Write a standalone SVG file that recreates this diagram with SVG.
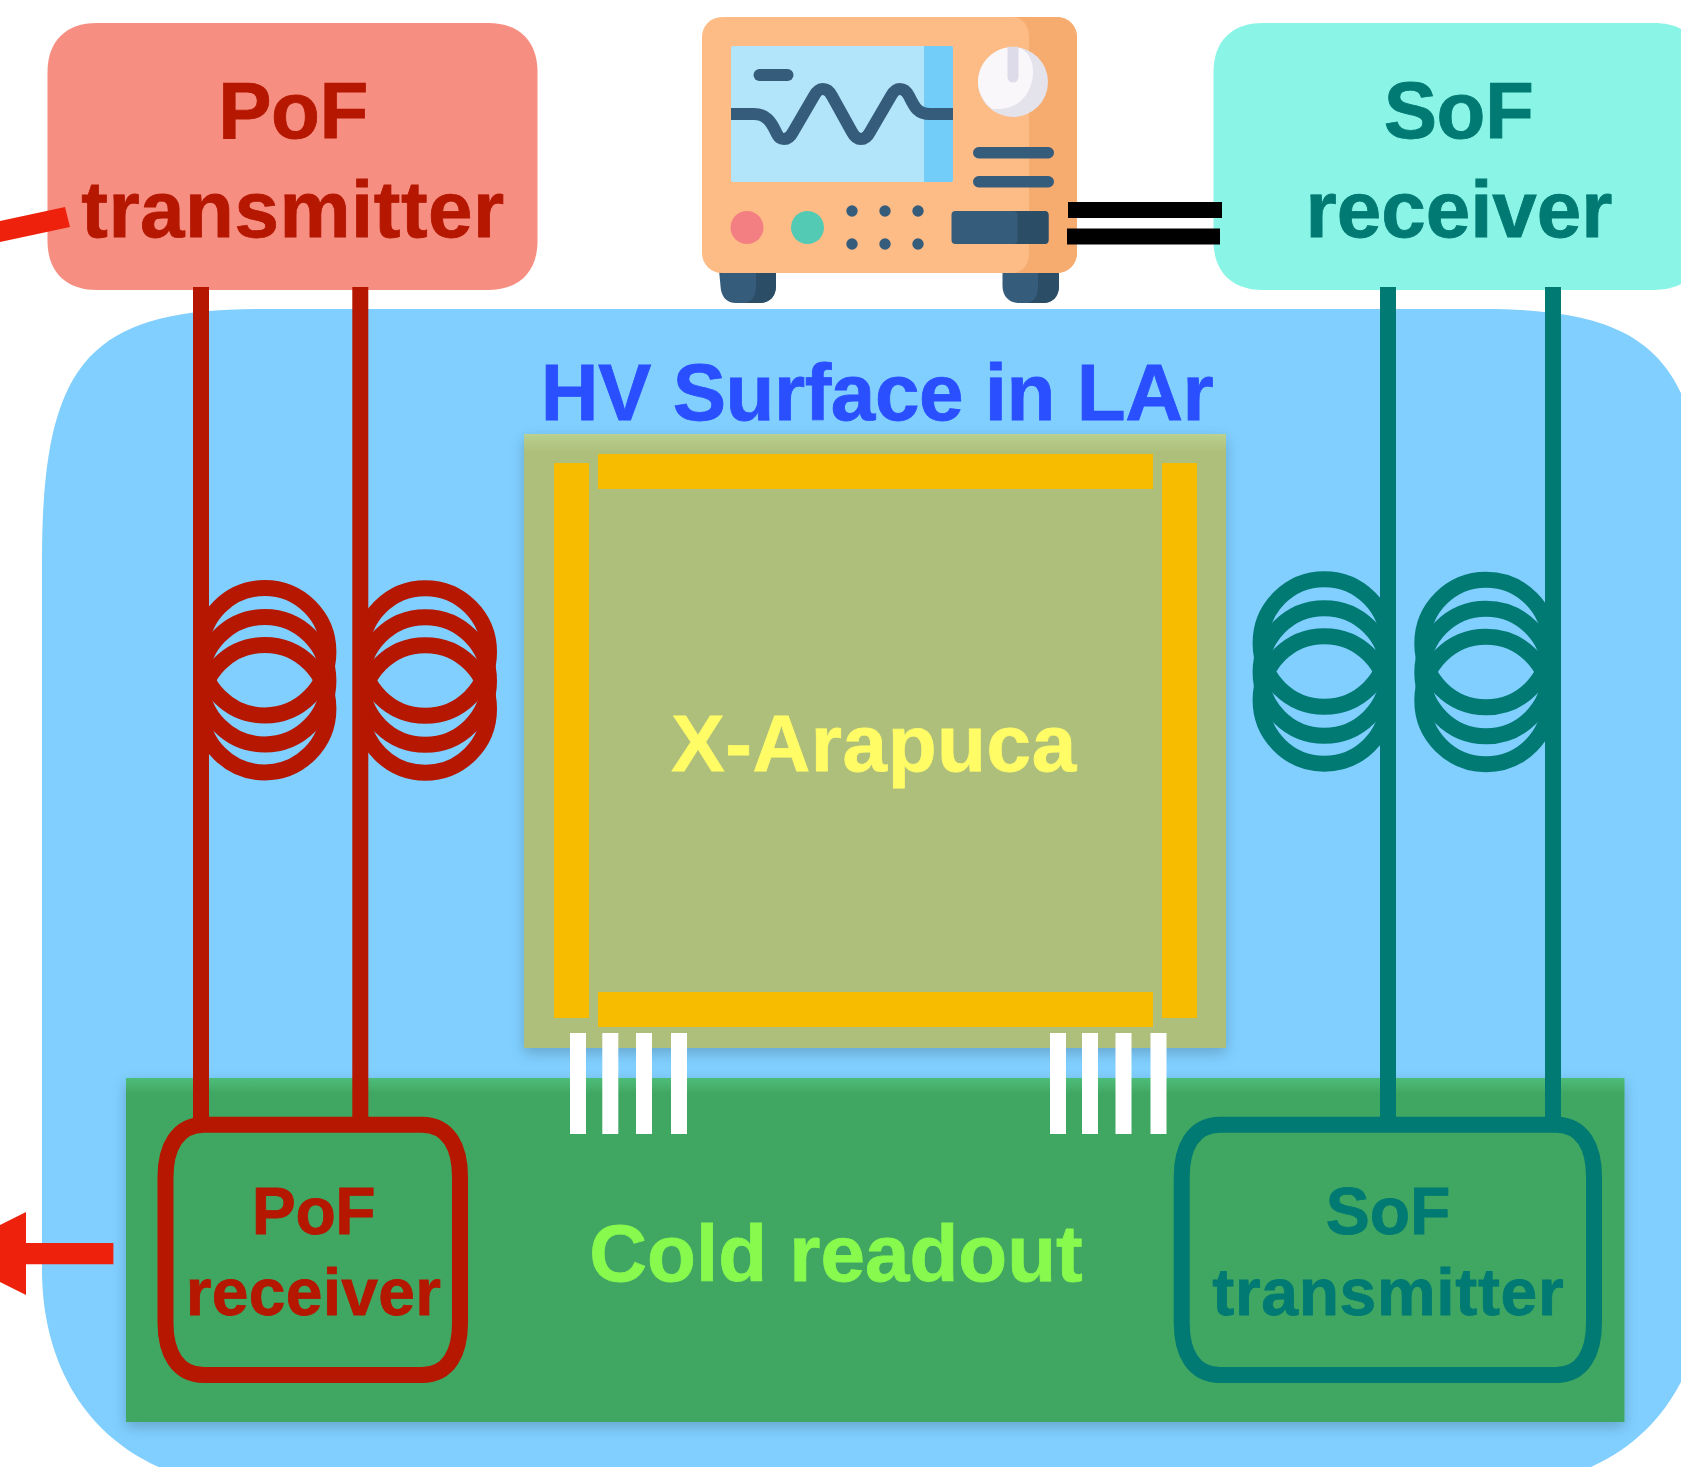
<svg xmlns="http://www.w3.org/2000/svg" width="1681" height="1467" viewBox="0 0 1681 1467">
<style>
text{font-family:"Liberation Sans",Arial,sans-serif;font-weight:700;text-anchor:middle;stroke-width:.8}
.t80{font-size:80px}.t66{font-size:66px}
.red{fill:#b51700;stroke:#b51700}.teal{fill:#007a73;stroke:#007a73}
.blue{fill:#2a4fff;stroke:#2a4fff}.lime{fill:#88fa4e;stroke:#88fa4e}.yel{fill:#fffc66;stroke:#fffc66}
.rl{stroke:#b51700;stroke-width:16;fill:none}
.tl{stroke:#007a73;stroke-width:16;fill:none}
.w{fill:#fff}.y{fill:#f7bb00}
.navy{fill:#365c7c}.dnavy{fill:#2c4d66}
</style>
<defs>
<filter id="sh" x="-5%" y="-5%" width="110%" height="110%"><feDropShadow dx="0" dy="5" stdDeviation="7" flood-color="#000" flood-opacity=".2"/></filter>
<linearGradient id="gg" x1="0" y1="0" x2="0" y2="1"><stop offset="0" stop-color="#4dbd7a"/><stop offset=".045" stop-color="#41a762"/></linearGradient>
<linearGradient id="og" x1="0" y1="0" x2="0" y2="1"><stop offset="0" stop-color="#b9d08f"/><stop offset=".03" stop-color="#aebf7b"/></linearGradient>
<g id="coil"><circle cx="0" cy="0" r="63.7"/><circle cx="0" cy="29" r="63.7"/><circle cx="0" cy="57" r="63.7"/></g>
</defs>
<rect width="1681" height="1467" fill="#fff"/>
<g id="hv-surface">
<path d="M42 560 C42 360 90 309 262 309 H1483 C1655 309 1706 360 1706 560 V1270 C1706 1370 1655 1490 1470 1490 H280 C95 1490 42 1370 42 1270Z" fill="#80cfff"/>
<text class="t80 blue" x="876.900" y="420" letter-spacing="-.45">HV Surface in LAr</text>
</g>
<g id="cold-readout">
<rect x="126" y="1078" width="1498.500" height="344" fill="url(#gg)" filter="url(#sh)"/>
<text class="t80 lime" x="836" y="1281">Cold readout</text>
</g>
<g id="x-arapuca">
<rect x="524" y="434" width="702" height="614" fill="url(#og)" filter="url(#sh)"/>
<rect class="y" x="598" y="454" width="555" height="35"/>
<rect class="y" x="598" y="992" width="555" height="35"/>
<rect class="y" x="554" y="463" width="35" height="555"/>
<rect class="y" x="1162" y="463" width="35" height="555"/>
<text class="t80 yel" x="874" y="771" letter-spacing=".6">X-Arapuca</text>
</g>
<g id="connectors">
<g class="w">
<rect x="570" y="1033" width="16" height="101"/><rect x="602.300" y="1033" width="16" height="101"/><rect x="636" y="1033" width="16" height="101"/><rect x="671" y="1033" width="16" height="101"/>
<rect x="1050" y="1033" width="16" height="101"/><rect x="1082" y="1033" width="16" height="101"/><rect x="1115.500" y="1033" width="16" height="101"/><rect x="1150.500" y="1033" width="16" height="101"/>
</g>
<g class="rl"><use href="#coil" x="264.700" y="651.700"/><use href="#coil" x="425.300" y="652"/></g>
<g class="tl"><use href="#coil" x="1324.300" y="643"/><use href="#coil" x="1486" y="643.500"/></g>
</g>
<g id="pof-transmitter">
<path d="M97 23 H488 C519 23 537.500 41 537.500 72 V241 C537.500 272 519 290 488 290 H97 C66 290 47.500 272 47.500 241 V72 C47.500 41 66 23 97 23Z" fill="#f78e82"/>
<text class="t80 red" x="293" y="138" letter-spacing="-.5">PoF</text>
<text class="t80 red" x="293" y="237" letter-spacing=".5">transmitter</text>
</g>
<g id="sof-receiver">
<path d="M1263 23 H1654 C1685 23 1704 41 1704 72 V241 C1704 272 1685 290 1654 290 H1263 C1232 290 1213.500 272 1213.500 241 V72 C1213.500 41 1232 23 1263 23Z" fill="#8af5e6"/>
<text class="t80 teal" x="1458.500" y="138" letter-spacing="-.5">SoF</text>
<text class="t80 teal" x="1459" y="237">receiver</text>
</g>
<g id="oscilloscope">
<path class="navy" d="M719 270 H776 V286 C776 297 769 303 760 303 H736 C727 303 721 297 720.500 286Z"/>
<path class="dnavy" d="M756 270 H776 V286 C776 297 769 303 760 303 H745 C752 302 756 296 756 286Z"/>
<path class="navy" d="M1002.500 270 H1059 V286 C1059 297 1052 303 1043 303 H1019 C1010 303 1002.500 297 1002.500 286Z"/>
<path class="dnavy" d="M1038 270 H1059 V286 C1059 297 1052 303 1043 303 H1027 C1034 302 1038 296 1038 286Z"/>
<rect x="702" y="17" width="375" height="256" rx="20" fill="#fdbc85"/>
<path d="M1012 17 H1057 C1068 17 1077 26 1077 37 V253 C1077 264 1068 273 1057 273 H1012 C1023 273 1029 264 1029 253 V37 C1029 26 1023 17 1012 17Z" fill="#f6ab6f"/>
<rect x="731" y="46" width="222" height="136" rx="2" fill="#b2e4fa"/>
<path d="M924 46 H951 Q953 46 953 48 V180 Q953 182 951 182 H924Z" fill="#73cdf9"/>
<rect x="753.500" y="69" width="40" height="12" rx="6" class="navy"/>
<path d="M731 114 H754 C766 114 771 122 775 130 C779 139 781 139 784 139 C787 139 790 138 793 132 L814 96 C818 89 821 89 823 89 C826 89 829 90 832 96 L852 132 C855 138 858 139 861 139 C864 139 867 138 870 132 L891 96 C895 89 898 89 900 89 C903 89 906 90 909 96 C914 106 917 114 930 114 H953" fill="none" stroke="#365c7c" stroke-width="12"/>
<circle cx="1013" cy="82" r="35" fill="#e4e3ec"/>
<path d="M1013 47 C1026 47 1033 58 1033 72 C1033 93 1018 109 1000 109 C995 109 992 109 992 109 C984 102 978 93 978 82 C978 63 994 47 1013 47Z" fill="#f9f7f9"/>
<path d="M1007.500 47 C1010 46.500 1016 46.500 1018.500 47 V77 A5.500 5.500 0 0 1 1007.500 77Z" fill="#dddbe9"/>
<rect x="973" y="147" width="81" height="11.500" rx="5.700" class="navy"/>
<rect x="973" y="176" width="81" height="11.500" rx="5.700" class="navy"/>
<circle cx="747" cy="227.500" r="16.500" fill="#f47f82"/>
<circle cx="807.500" cy="227.500" r="16.500" fill="#52cab4"/>
<g class="navy"><circle cx="852" cy="211" r="5.700"/><circle cx="885" cy="211" r="5.700"/><circle cx="918" cy="211" r="5.700"/><circle cx="852" cy="244" r="5.700"/><circle cx="885" cy="244" r="5.700"/><circle cx="918" cy="244" r="5.700"/></g>
<rect x="951.500" y="211" width="97" height="33" rx="4" class="navy"/>
<path d="M1013 211 H1044 Q1048.500 211 1048.500 215 V240 Q1048.500 244 1044 244 H1013 Q1017.500 244 1017.500 240 V215 Q1017.500 211 1013 211Z" class="dnavy"/>
</g>
<g id="lines">
<path class="rl" d="M201 287 V1125 M360.300 287 V1125"/>
<path class="tl" d="M1388 287 V1125 M1553 287 V1125"/>
<rect x="1068" y="202" width="154" height="16"/>
<rect x="1067" y="228.500" width="153" height="16"/>
<polygon points="0,221 65,207 70,227 0,242" fill="#ee220c"/>
<polygon points="113.400,1243 26,1243 26,1212 -57,1253.500 26,1295 26,1264.300 113.400,1264.300" fill="#ee220c"/>
</g>
<g id="pof-receiver">
<path class="rl" d="M204 1124.700 H422 C449 1124.700 460 1148 460 1177 V1323 C460 1352 449 1375 422 1375 H204 C177 1375 165.500 1352 165.500 1323 V1177 C165.500 1148 177 1124.700 204 1124.700Z"/>
<text class="t66 red" x="313.500" y="1234.300" letter-spacing="-.4">PoF</text>
<text class="t66 red" x="313.500" y="1314.500" letter-spacing=".3">receiver</text>
</g>
<g id="sof-transmitter">
<path class="tl" d="M1220 1124.700 H1556 C1583 1124.700 1594 1148 1594 1177 V1323 C1594 1352 1583 1375 1556 1375 H1220 C1193 1375 1181.700 1352 1181.700 1323 V1177 C1181.700 1148 1193 1124.700 1220 1124.700Z"/>
<text class="t66 teal" x="1388" y="1234.300">SoF</text>
<text class="t66 teal" x="1388.300" y="1314.500" letter-spacing=".65">transmitter</text>
</g>
</svg>
